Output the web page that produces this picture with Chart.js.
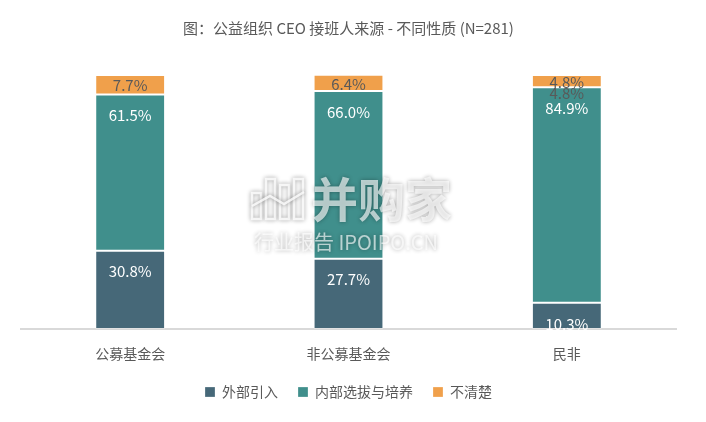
<!DOCTYPE html>
<html>
<head>
<meta charset="utf-8">
<script src="https://cdn.jsdelivr.net/npm/chart.js@4.4.1/dist/chart.umd.min.js"></script>
<style>
html,body{margin:0;padding:0;background:#fff;}
#wrap{width:706px;height:422px;position:relative;}
</style>
</head>
<body>
<div id="wrap"><canvas id="c" width="706" height="422"></canvas></div>
<script>
const categories = ['公募基金会', '非公募基金会', '民非'];
const seriesNames = ['外部引入', '内部选拔与培养', '不清楚'];
const external = [30.8, 27.7, 10.3];
const internal = [61.5, 66.0, 84.9];
const unknown = [7.7, 6.4, 4.8];
const duplicateUnknownLabel = ['民非'];
const titleText = '图：公益组织 CEO 接班人来源 - 不同性质 (N=281)';
const watermarkMain = '并购家';
const watermarkSub = '行业报告 IPOIPO.CN';

const FONT = '"Noto Sans CJK SC", "Noto Sans", sans-serif';
const colors = ['#466878', '#408f8c', '#f0a04b'];

const labelPlugin = {
  id: 'labels',
  afterDatasetsDraw(chart) {
    const ctx = chart.ctx;
    // watermark
    ctx.save();
    ctx.shadowColor = 'rgba(0,0,0,0.5)';
    ctx.shadowBlur = 4;
    ctx.fillStyle = 'rgba(255,255,255,0.65)';
    ctx.strokeStyle = 'rgba(255,255,255,0.8)';
    ctx.lineWidth = 2.5;
    ctx.textBaseline = 'middle';
    ctx.textAlign = 'left';
    ctx.font = 'bold 47px ' + FONT;
    ctx.fillText(watermarkMain, 311, 199);
    ctx.font = '20px ' + FONT;
    ctx.fillText(watermarkSub, 254, 242);
    const bx = [252, 266, 280, 294];
    const bh = [26, 40, 34, 40];
    for (let i = 0; i < bx.length; i++) {
      ctx.strokeRect(bx[i], 219 - bh[i], 9, bh[i]);
    }
    ctx.beginPath();
    ctx.moveTo(252, 206); ctx.lineTo(270, 196); ctx.lineTo(284, 204); ctx.lineTo(304, 192);
    ctx.stroke();
    ctx.restore();

    ctx.save();
    ctx.font = '15px ' + FONT;
    ctx.textAlign = 'center';
    ctx.textBaseline = 'middle';
    chart.data.datasets.forEach((ds, di) => {
      const meta = chart.getDatasetMeta(di);
      meta.data.forEach((el, i) => {
        const v = ds.data[i];
        const txt = v.toFixed(1) + '%';
        const top = Math.min(el.y, el.base);
        const bot = Math.max(el.y, el.base);
        if (di === 2) {
          ctx.fillStyle = '#595959';
          ctx.fillText(txt, el.x, (top + bot) / 2 + 1);
          if (duplicateUnknownLabel.includes(categories[i])) {
            ctx.fillText(txt, el.x, bot + 6);
          }
        } else {
          ctx.fillStyle = '#ffffff';
          ctx.fillText(txt, el.x, top + 21);
        }
      });
    });
    ctx.restore();
  }
};

new Chart(document.getElementById('c'), {
  type: 'bar',
  data: {
    labels: categories,
    datasets: [
      { label: seriesNames[0], data: external, backgroundColor: colors[0] },
      { label: seriesNames[1], data: internal, backgroundColor: colors[1] },
      { label: seriesNames[2], data: unknown, backgroundColor: colors[2] }
    ].map(d => Object.assign(d, {
      borderColor: 'rgba(255,255,255,0.25)',
      borderWidth: 1,
      borderSkipped: false,
      barPercentage: 0.32,
      categoryPercentage: 1.0
    }))
  },
  options: {
    responsive: false,
    animation: false,
    devicePixelRatio: 1,
    layout: { padding: { left: 21, right: 30, top: 0, bottom: 13 } },
    plugins: {
      title: {
        display: true,
        text: titleText,
        color: '#595959',
        font: { family: FONT, size: 15, weight: 'normal' },
        padding: { top: 19, bottom: 38 }
      },
      legend: {
        position: 'bottom',
        labels: {
          color: '#595959',
          font: { family: FONT, size: 14 },
          boxWidth: 10,
          boxHeight: 10,
          padding: 20
        }
      },
      tooltip: { enabled: false }
    },
    scales: {
      x: {
        stacked: true,
        grid: { display: false, drawTicks: false },
        border: { display: true, color: '#d9d9d9', width: 2 },
        ticks: { color: '#595959', font: { family: FONT, size: 14 }, padding: 16 },
        afterFit: (scale) => { scale.height = 36; }
      },
      y: {
        stacked: true,
        min: 0,
        max: 100,
        display: false
      }
    }
  },
  plugins: [labelPlugin]
});
</script>
</body>
</html>
